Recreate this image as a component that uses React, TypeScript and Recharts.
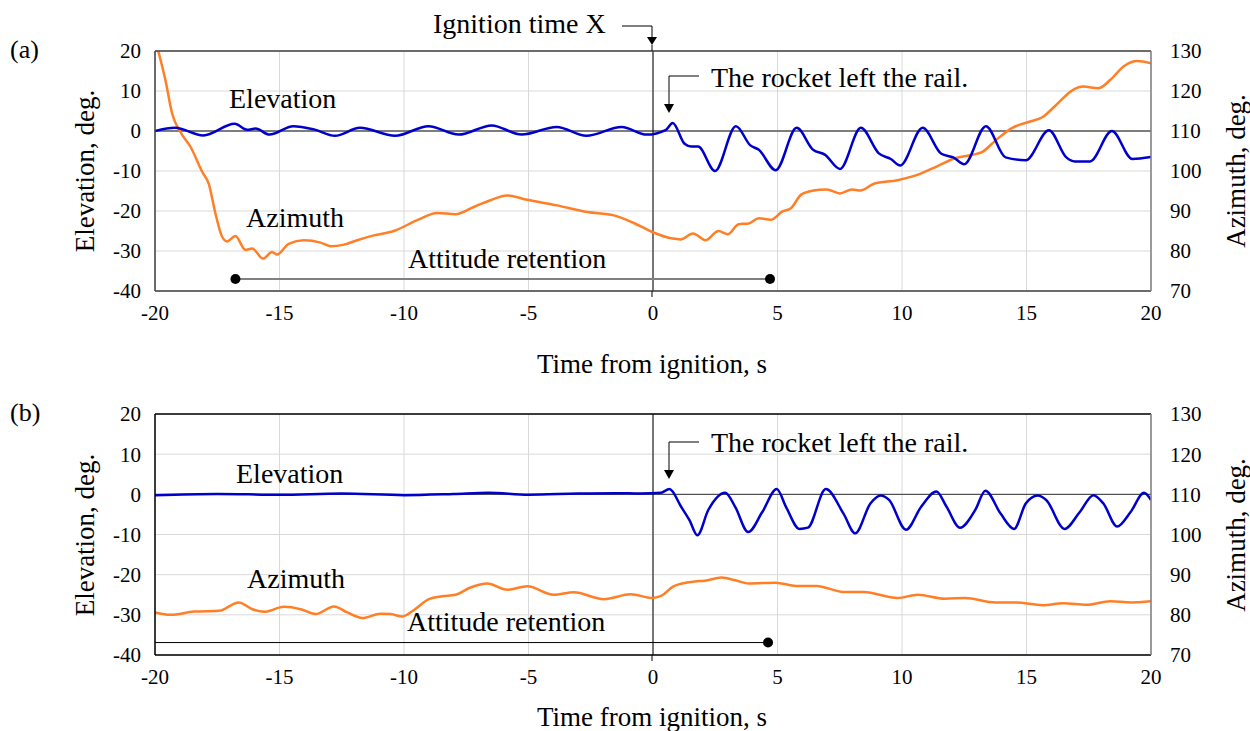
import React from "react";
import {
  LineChart,
  Line,
  XAxis,
  YAxis,
  CartesianGrid,
  ReferenceLine,
  ReferenceDot,
} from "recharts";

const FONT = "'Liberation Serif', 'Times New Roman', serif";
const BLUE = "#0000cc";
const ORANGE = "#ff7f27";

const timeTicks = [-20, -15, -10, -5, 0, 5, 10, 15, 20];
const elevationTicks = [-40, -30, -20, -10, 0, 10, 20];
const azimuthTicks = [70, 80, 90, 100, 110, 120, 130];

// (a) elevation, deg
const elevTimeA = [
  -20, -19.2, -18.06, -16.8, -16.3, -15.96, -15.4, -14.45, -13.62, -12.77, -11.77, -10.36, -9.02,
  -7.8, -6.48, -5.28, -3.87, -2.67, -1.26, -0.25, 0.52, 0.79, 1.27, 1.54, 1.81, 2.49, 3.33, 3.91,
  4.25, 4.93, 5.77, 6.43, 6.9, 7.51, 8.35, 9.07, 9.55, 9.93, 10.83, 11.58, 12.06, 12.5, 13.37,
  14.16, 14.97, 15.9, 16.6, 16.94, 17.55, 18.43, 19.25, 20,
]
const elevA = [
  0, 0.8, -1.1, 1.8, 0.3, 0.6, -0.9, 1.2, 0.4, -1.2, 0.8, -1.2, 1.2,
  -0.9, 1.4, -0.9, 1.0, -1.2, 1.0, -0.9, 0.3, 2.0, -3.2, -3.9, -3.9, -10.0, 1.2, -3.6,
  -4.7, -9.8, 0.8, -4.7, -5.9, -9.5, 0.8, -5.6, -7.0, -8.6, 0.8, -5.7, -6.6, -8.3, 1.2,
  -6.6, -7.3, 0.2, -6.6, -7.6, -7.6, 0.0, -7.0, -6.5,
]

// (a) azimuth, deg
const azimTimeA = [
  -19.87, -19.58, -19.31, -18.98, -18.57, -18.1, -17.84, -17.57, -17.3, -17.1, -16.77, -16.37, -16.1,
  -15.66, -15.3, -15.1, -14.63, -14.02, -13.35, -12.95, -12.41, -11.88, -11.21, -10.41, -9.47, -8.67,
  -7.93, -7.2, -6.53, -5.86, -5.05, -3.85, -2.64, -1.57, -0.77, -0.03, 0.79, 1.1, 1.61, 2.11, 2.63,
  3.0, 3.44, 3.85, 4.25, 4.73, 5.2, 5.54, 5.95, 6.43, 6.97, 7.51, 7.99, 8.33, 8.87, 9.82, 10.7, 11.45,
  12.13, 12.8, 13.21, 13.75, 14.43, 15.11, 15.65, 16.19, 16.87, 17.28, 17.89, 18.37, 18.91, 19.45, 20,
]
const azimA = [
  130, 122.7, 114.3, 109.75, 106, 99.75, 96.8, 89.3, 83.5, 82.4, 83.75, 80.3, 80.6,
  78.1, 79.75, 79.1, 81.8, 82.7, 82.1, 81.2, 81.6, 82.7, 83.9, 85, 87.7, 89.5,
  89.2, 91, 92.7, 93.9, 92.8, 91.4, 89.75, 88.9, 87, 84.75, 83.1, 82.9, 84.4, 82.7, 85,
  84.2, 86.7, 86.9, 88.2, 87.8, 89.9, 90.7, 94.1, 95.1, 95.4, 94.4, 95.4, 95.1, 96.8, 97.7, 99.2, 101.3,
  103.2, 104, 104.7, 107.6, 110.8, 112.3, 113.5, 116.5, 120.3, 121.1, 120.7, 122.8, 126.2, 127.5, 126.9,
]

// (b) elevation, deg
const elevTimeB = [
  -20, -17.5, -15, -12.5, -10, -8, -6.6, -5, -3, -1.5, -0.49, 0.32, 0.66, 1.13, 1.47, 1.78, 2.22, 2.9,
  3.3, 3.82, 4.39, 4.97, 5.34, 5.88, 6.22, 6.94, 7.65, 8.12, 8.73, 9.14, 9.48, 10.16, 10.77, 11.38,
  11.79, 12.33, 12.94, 13.35, 13.96, 14.5, 14.97, 15.45, 15.79, 16.53, 17.14, 17.69, 18.09, 18.64,
  19.18, 19.72, 20,
]
const elevB = [
  -0.2, 0.1, -0.1, 0.2, -0.2, 0.1, 0.4, -0.1, 0.2, 0.3, 0.2, 0.4, 1.3, -3.1, -6.5, -10.2, -3.9, 0.4,
  -3.1, -9.4, -4.4, 1.3, -3.1, -8.6, -8.3, 1.3, -4.8, -9.7, -2.3, -0.3, -1.4, -8.8, -3.1, 0.7,
  -3.1, -8.3, -3.9, 0.9, -4.8, -8.6, -2.3, -0.3, -1.4, -8.6, -4.4, -0.2, -2.3, -8.0,
  -4.4, 0.4, -1.4,
]

// (b) azimuth, deg
const azimTimeB = [
  -20, -19.37, -18.43, -17.43, -16.63, -16.09, -15.62, -14.82, -14.15, -13.55, -12.81, -12.28, -11.67,
  -10.94, -10.54, -10.07, -9.6, -9.0, -8.46, -7.93, -7.33, -6.66, -5.85, -5.05, -3.98, -3.18, -1.97,
  -0.9, -0.03, 0.32, 0.86, 1.68, 2.08, 2.76, 3.3, 3.85, 4.93, 5.75, 6.56, 7.65, 8.46, 9.82, 10.63,
  11.72, 12.53, 13.75, 14.57, 15.65, 16.47, 17.42, 18.37, 19.18, 20,
]
const azimB = [
  80.6, 80, 80.8, 81, 83.1, 81.4, 80.75, 82, 81.4, 80.2, 82.1, 80.6, 79.2,
  80.3, 80.2, 79.6, 81.2, 83.9, 84.6, 85, 86.8, 87.8, 86.25, 87.1, 85, 85.6, 83.9,
  85.1, 84.2, 84.7, 87.2, 88.3, 88.5, 89.3, 88.6, 87.8, 88, 87.2, 87.2, 85.7, 85.7, 84.2, 85,
  84, 84.2, 83.1, 83.1, 82.4, 82.9, 82.5, 83.4, 83.1, 83.4,
]

const zip = (ts: number[], vs: number[]) => ts.map((t, i) => ({ t, v: vs[i] }))

const W = 1250
const PLOT_LEFT = 155
const PLOT_RIGHT = 1151
const AXIS_W = 60
const AXIS_H = 30

type PanelProps = {
  tag: string
  top: number
  height: number
  plotTop: number
  plotBottom: number
  elevation: { t: number; v: number }[]
  azimuth: { t: number; v: number }[]
  retention: { from: number; to: number; y: number; startDot: boolean; color: string; width: number }
  frame: string
  zero: string
  zeroWidth: number
  notes: {
    tagY: number
    titleY: number
    xTitleY: number
    elevation: [number, number]
    azimuth: [number, number]
    retention: [number, number]
    rocketY: number
    rocketLineY: number
    rocketTipY: number
  }
  ignition?: boolean
}

function Panel(p: PanelProps) {
  const n = p.notes
  const tickStyle = { fontSize: 21, fill: "#000", fontFamily: FONT }
  return (
    <div style={{ position: "absolute", left: 0, top: p.top, width: W, height: p.height }}>
      <LineChart
        width={W}
        height={p.height}
        margin={{
          top: p.plotTop,
          bottom: p.height - p.plotBottom - AXIS_H,
          left: PLOT_LEFT - AXIS_W,
          right: W - PLOT_RIGHT - AXIS_W,
        }}
      >
        <CartesianGrid yAxisId="left" stroke="#d9d9d9" strokeWidth={1} />
        <XAxis
          dataKey="t"
          type="number"
          domain={[-20, 20]}
          ticks={timeTicks}
          allowDataOverflow
          axisLine={false}
          tickLine={false}
          tickMargin={8}
          height={AXIS_H}
          tick={tickStyle}
          interval={0}
        />
        <YAxis
          yAxisId="left"
          type="number"
          domain={[-40, 20]}
          ticks={elevationTicks}
          allowDataOverflow
          axisLine={false}
          tickLine={false}
          tickMargin={8}
          width={AXIS_W}
          tick={tickStyle}
          interval={0}
        />
        <YAxis
          yAxisId="right"
          orientation="right"
          type="number"
          domain={[70, 130]}
          ticks={azimuthTicks}
          allowDataOverflow
          axisLine={false}
          tickLine={false}
          tickMargin={13}
          width={AXIS_W}
          tick={{ ...tickStyle, textAnchor: "start" }}
          interval={0}
        />
        <ReferenceLine yAxisId="left" y={0} stroke={p.zero} strokeWidth={p.zeroWidth} />
        <ReferenceLine yAxisId="left" x={0} stroke="#000" strokeWidth={1} />
        <ReferenceLine
          yAxisId="left"
          segment={[
            { x: p.retention.from, y: p.retention.y },
            { x: p.retention.to, y: p.retention.y },
          ]}
          stroke={p.retention.color}
          strokeWidth={p.retention.width}
        />
        {p.retention.startDot && (
          <ReferenceDot yAxisId="left" x={p.retention.from} y={p.retention.y} r={5} fill="#000" stroke="none" />
        )}
        <ReferenceDot yAxisId="left" x={p.retention.to} y={p.retention.y} r={5} fill="#000" stroke="none" />
        <Line
          yAxisId="right"
          data={p.azimuth}
          dataKey="v"
          type="monotone"
          stroke={ORANGE}
          strokeWidth={2.5}
          dot={false}
          isAnimationActive={false}
        />
        <Line
          yAxisId="left"
          data={p.elevation}
          dataKey="v"
          type="monotone"
          stroke={BLUE}
          strokeWidth={2.5}
          dot={false}
          isAnimationActive={false}
        />
      </LineChart>

      <svg
        width={W}
        height={p.height}
        style={{
          position: "absolute",
          left: 0,
          top: 0,
          pointerEvents: "none",
          fontFamily: FONT,
          overflow: "visible",
        }}
      >
        {/* frame */}
        <line x1={PLOT_LEFT} y1={p.plotTop} x2={PLOT_RIGHT} y2={p.plotTop} stroke={p.frame} strokeWidth={1.5} />
        <line x1={PLOT_LEFT} y1={p.plotBottom} x2={PLOT_RIGHT} y2={p.plotBottom} stroke={p.frame} strokeWidth={1.5} />
        <line x1={PLOT_LEFT} y1={p.plotTop} x2={PLOT_LEFT} y2={p.plotBottom} stroke={p.frame} strokeWidth={1.5} />
        <line x1={PLOT_RIGHT} y1={p.plotTop} x2={PLOT_RIGHT} y2={p.plotBottom} stroke="#7f7f7f" strokeWidth={1.5} />
        <line x1={652} y1={p.plotBottom} x2={652} y2={p.plotBottom + 6} stroke="#000" strokeWidth={1} />

        <text x={10} y={n.tagY} fontSize={26}>{p.tag}</text>
        <text
          transform={`translate(85, ${n.titleY}) rotate(-90)`}
          textAnchor="middle"
          dominantBaseline="central"
          fontSize={27}
        >
          Elevation, deg.
        </text>
        <text
          transform={`translate(1236, ${n.titleY}) rotate(-90)`}
          textAnchor="middle"
          dominantBaseline="central"
          fontSize={27}
        >
          Azimuth, deg.
        </text>
        <text x={652} y={n.xTitleY} textAnchor="middle" fontSize={27}>
          Time from ignition, s
        </text>

        <text x={n.elevation[0]} y={n.elevation[1]} fontSize={28}>Elevation</text>
        <text x={n.azimuth[0]} y={n.azimuth[1]} fontSize={28}>Azimuth</text>
        <text x={n.retention[0]} y={n.retention[1]} fontSize={28}>Attitude retention</text>

        <text x={711} y={n.rocketY} fontSize={28}>The rocket left the rail.</text>
        <polyline
          points={`699,${n.rocketLineY} 669,${n.rocketLineY} 669,${n.rocketTipY - 8}`}
          fill="none"
          stroke="#000"
          strokeWidth={1}
        />
        <polygon
          points={`664,${n.rocketTipY - 9} 674,${n.rocketTipY - 9} 669,${n.rocketTipY}`}
          fill="#000"
        />

        {p.ignition && (
          <g>
            <text x={433} y={33} fontSize={28}>Ignition time X</text>
            <polyline points={`622,26 652,26 652,38`} fill="none" stroke="#000" strokeWidth={1} />
            <polygon points={`647,37 657,37 652,45`} fill="#000" />
            <line x1={652} y1={45} x2={652} y2={p.plotTop} stroke="#000" strokeWidth={1} />
          </g>
        )}
      </svg>
    </div>
  )
}

export default function App() {
  return (
    <div style={{ position: "absolute", left: 0, top: 0, width: W, height: 731, background: "#fff" }}>
      <Panel
        tag="(a)"
        top={0}
        height={365}
        plotTop={51}
        plotBottom={291}
        elevation={zip(elevTimeA, elevA)}
        azimuth={zip(azimTimeA, azimA)}
        retention={{ from: -16.77, to: 4.7, y: -37, startDot: true, color: "#808080", width: 2 }}
        frame="#404040"
        zero="#595959"
        zeroWidth={1.5}
        ignition
        notes={{
          tagY: 58,
          titleY: 171,
          xTitleY: 373,
          elevation: [229, 108],
          azimuth: [246, 227],
          retention: [408, 268],
          rocketY: 87,
          rocketLineY: 76,
          rocketTipY: 113,
        }}
      />
      <Panel
        tag="(b)"
        top={365}
        height={366}
        plotTop={49}
        plotBottom={290}
        elevation={zip(elevTimeB, elevB)}
        azimuth={zip(azimTimeB, azimB)}
        retention={{ from: -20, to: 4.62, y: -36.9, startDot: false, color: "#000", width: 1 }}
        frame="#000"
        zero="#333"
        zeroWidth={1}
        notes={{
          tagY: 56,
          titleY: 170,
          xTitleY: 361,
          elevation: [236, 118],
          azimuth: [247, 223],
          retention: [407, 266],
          rocketY: 87,
          rocketLineY: 77,
          rocketTipY: 114,
        }}
      />
    </div>
  )
}
